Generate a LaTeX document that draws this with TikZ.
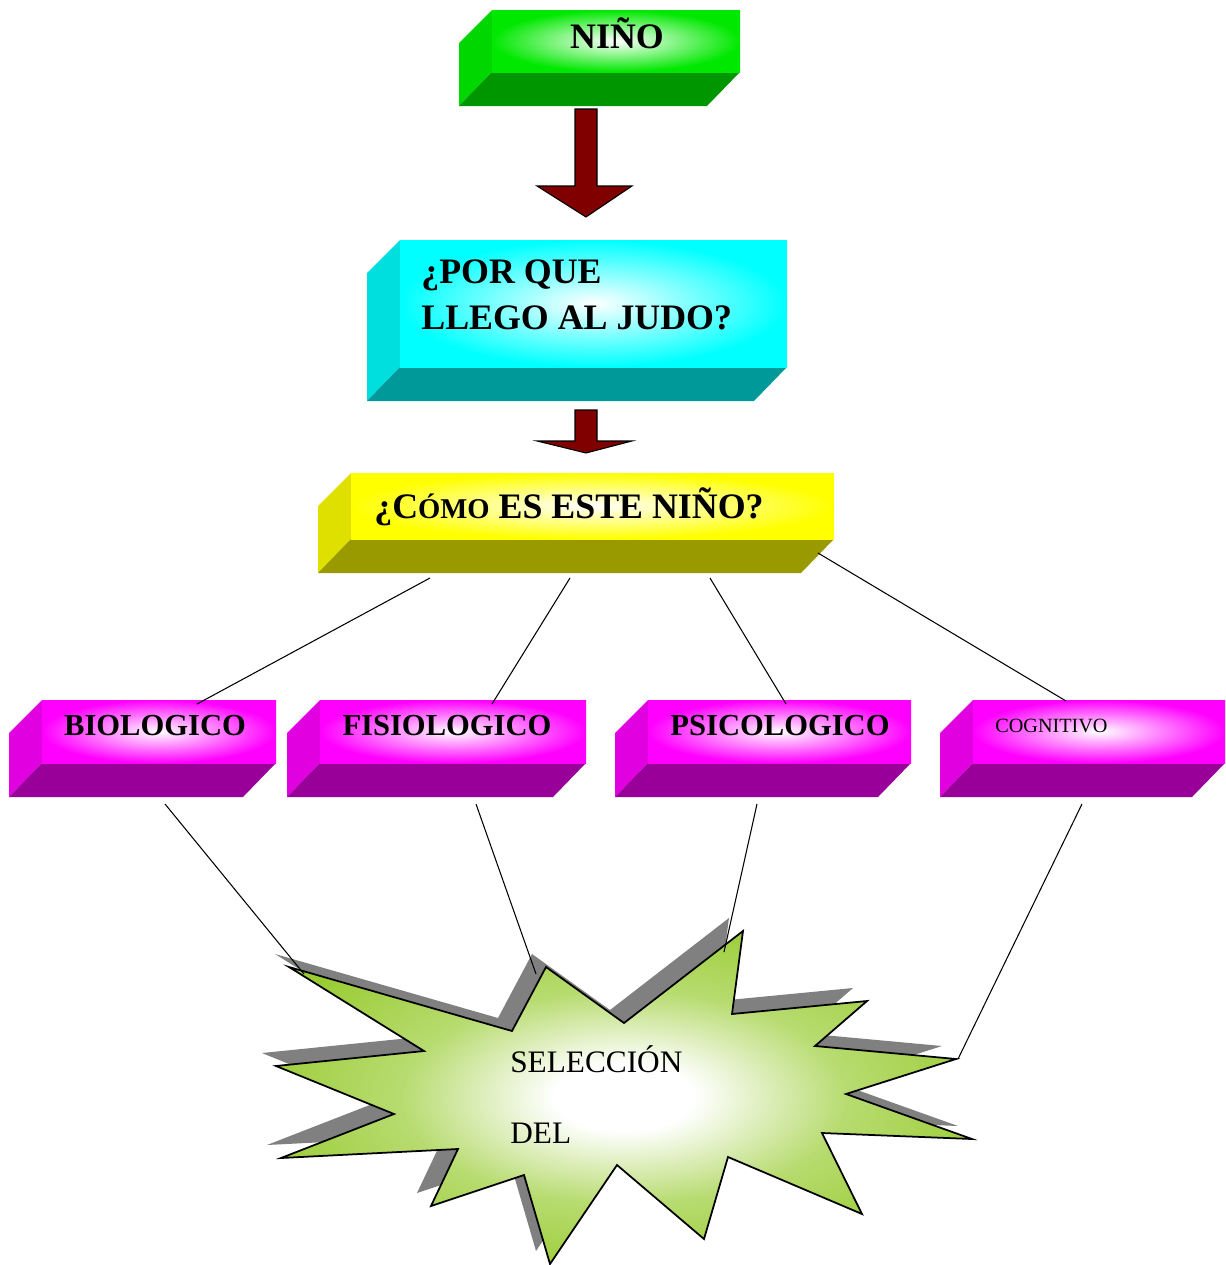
\documentclass[tikz,border=0pt]{standalone}
\usepackage{fontspec}
\setmainfont{Liberation Serif}
\usepackage{tikz}
\usetikzlibrary{calc}
\definecolor{arrowred}{RGB}{128,0,0}
\definecolor{nfront}{RGB}{0,232,0}
\definecolor{nside}{RGB}{0,215,0}
\definecolor{nbottom}{RGB}{0,150,0}
\definecolor{cfront}{RGB}{0,255,255}
\definecolor{cside}{RGB}{0,222,222}
\definecolor{cbottom}{RGB}{0,153,153}
\definecolor{yfront}{RGB}{255,255,0}
\definecolor{yside}{RGB}{224,224,0}
\definecolor{ybottom}{RGB}{153,153,0}
\definecolor{mfront}{RGB}{255,0,255}
\definecolor{mside}{RGB}{224,0,224}
\definecolor{mbottom}{RGB}{153,0,153}
\definecolor{stargreen}{RGB}{153,204,51}
\definecolor{shadowgray}{RGB}{128,128,128}
\pgfdeclareradialshading{starburst}{\pgfpoint{0bp}{0bp}}{color(0bp)=(white); color(5bp)=(white); color(16bp)=(stargreen!70!white); color(28bp)=(stargreen); color(50bp)=(stargreen)}
% name, x1, y1, x2, y2, front, side, bottom
\newcommand{\bevelbox}[8]{%
	\fill[#7] (#2-33,#3+33) -- (#2,#3) -- (#2,#5) -- (#2-33,#5+34) -- cycle;
	\fill[#8] (#2,#5) -- (#4,#5) -- (#4-33,#5+34) -- (#2-33,#5+34) -- cycle;
	\shade[inner color=white, outer color=#6] (#2,#3) rectangle (#4,#5);
	\coordinate (#1) at ({(#2+#4)/2},{(#3+#5)/2});
}
\def\starpath{(289,967) -- (512,1031) -- (546,967) -- (624,1023) -- (743,931) -- (732,1014) -- (867,1001) -- (815,1046) -- (956,1059) -- (846,1094) -- (972,1139) -- (822,1133) -- (862,1214) -- (728,1157) -- (704,1239) -- (617,1165) -- (550,1264) -- (524,1175) -- (431,1206) -- (458,1149) -- (281,1158) -- (394,1114) -- (276,1066) -- (424,1051) -- cycle}

\begin{document}
\begin{tikzpicture}[x=0.02cm, y=-0.02cm,
		conn/.style={line width=0.6pt},
		blockarrow/.style={fill=arrowred, draw=black, line width=0.6pt, line join=miter},
		bigtxt/.style={font=\fontsize{20.4}{24}\selectfont\bfseries, inner sep=0pt},
		midtxt/.style={font=\fontsize{17.4}{21}\selectfont\bfseries, inner sep=0pt, anchor=base},
		smalltxt/.style={font=\fontsize{11.5}{14}\selectfont, inner sep=0pt, anchor=base west},
		startxt/.style={font=\fontsize{17.8}{21}\selectfont, inner sep=0pt, anchor=base west}]
	\useasboundingbox (0,0) rectangle (1225,1265);
	\bevelbox{nino}{492}{10}{740}{72}{nfront}{nside}{nbottom}
	\bevelbox{porque}{400}{240}{787}{367}{cfront}{cside}{cbottom}
	\bevelbox{como}{351}{473}{834}{539}{yfront}{yside}{ybottom}
	\foreach \nm/\xa/\xb in {bio/42/276, fisio/320/586, psico/648/911, cogni/973/1225}{
		\bevelbox{\nm}{\xa}{700}{\xb}{763}{mfront}{mside}{mbottom}
	}
	\node[bigtxt, anchor=base] (nino-t) at (617,48) {NIÑO};
	\node[bigtxt, anchor=base west] (porque-t1) at (421,283) {¿POR QUE};
	\node[bigtxt, anchor=base west] (porque-t2) at (421,329) {LLEGO AL JUDO?};
	\node[bigtxt, anchor=base west] (como-t) at (374,518) {¿C{\fontsize{16.3}{19}\selectfont ÓMO} ES ESTE NIÑO?};
	\node[midtxt] (bio-t) at (155,735) {BIOLOGICO};
	\node[midtxt] (fisio-t) at (447,735) {FISIOLOGICO};
	\node[midtxt] (psico-t) at (780,735) {PSICOLOGICO};
	\node[smalltxt] (cogni-t) at (995,732) {COGNITIVO};
	\foreach \ya/\yb/\yc in {109/186/217, 410/441/453}{
		\draw[blockarrow] (575,\ya) -- (597,\ya) -- (597,\yb) -- (632,\yb) -- (586,\yc) -- (537,\yb) -- (575,\yb) -- cycle;
	}
	\fill[shadowgray, shift={(-14,-13)}] \starpath;
	\shade[shading=starburst, draw=black, line width=1pt, line join=miter] \starpath;
	\node[startxt] (sel-t1) at (510,1072) {SELECCIÓN};
	\node[startxt] (sel-t2) at (510,1143) {DEL};
	\foreach \nm/\xs/\ys/\xe/\ye in {bio/430/578/197/704, fisio/570/578/492/704, psico/710/578/786/704, cogni/818/553/1066/701}{
		\coordinate (\nm-in) at (\xs,\ys);
		\coordinate (\nm-top) at (\xe,\ye);
	}
	\foreach \nm/\xs/\xe/\ye in {bio/165/304/974, fisio/476/536/974, psico/757/724/952, cogni/1082/958/1059}{
		\coordinate (\nm-out) at (\xs,804);
		\coordinate (\nm-sel) at (\xe,\ye);
	}
	\foreach \nm in {bio, fisio, psico, cogni}{
		\draw[conn] (\nm-in) -- (\nm-top);
		\draw[conn] (\nm-out) -- (\nm-sel);
	}
\end{tikzpicture}
\end{document}
